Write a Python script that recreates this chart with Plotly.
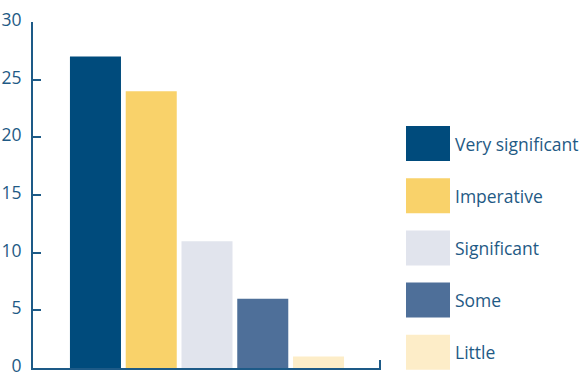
import plotly.graph_objects as go

categories = ["Very significant", "Imperative", "Significant", "Some", "Little"]
values = [27, 24, 11, 6, 1]
colors = ["#004b7c", "#f9d26a", "#e1e4ed", "#4e6f99", "#fdedc8"]
y_ticks = [0, 5, 10, 15, 20, 25, 30]

axis_color = "#1d5a87"
text_color = "#1f5a85"
FONT = "Open Sans"

fig = go.Figure()
for cat, val, col in zip(categories, values, colors):
    fig.add_trace(go.Bar(x=[cat], y=[val], name=cat, marker=dict(color=col, line=dict(width=0)),
                         showlegend=False))

# custom legend with large swatches
shapes = []
annotations = []
top0 = 126
step = 52.2
for i, (cat, col) in enumerate(zip(categories, colors)):
    t = top0 + i * step
    b = t + 35
    shapes.append(dict(type="rect", xref="paper", yref="paper",
                       x0=(406 - 33) / 348, x1=(450 - 33) / 348,
                       y0=(368 - b) / 346, y1=(368 - t) / 346,
                       fillcolor=col, line=dict(width=0)))
    annotations.append(dict(xref="paper", yref="paper", x=(453 - 33) / 348, y=(368 - (t + 17.5)) / 346,
                            text=cat, showarrow=False, xanchor="left", yanchor="middle",
                            font=dict(family=FONT, size=17.5, color=text_color)))

fig.update_layout(
    width=581, height=374,
    margin=dict(l=33, r=200, t=22, b=6, autoexpand=False),
    paper_bgcolor="white", plot_bgcolor="white",
    barmode="overlay", bargap=0.085,
    shapes=shapes, annotations=annotations,
    xaxis=dict(range=[-1.12, 5.12], showline=True, linecolor=axis_color, linewidth=2,
               showgrid=False, zeroline=False, showticklabels=False, automargin=False,
               ticks="inside", ticklen=8, tickcolor=axis_color, tickwidth=2,
               tickmode="array", tickvals=[5.1]),
    yaxis=dict(range=[0, 30], tickvals=y_ticks, showline=True, linecolor=axis_color, linewidth=2,
               showgrid=False, zeroline=False, ticks="inside", ticklen=8, tickcolor=axis_color,
               tickwidth=2, ticklabelstandoff=6, automargin=False, ticklabeloverflow="allow",
               ticklabelshift=-2,
               tickfont=dict(family=FONT, size=17.5, color=text_color)),
)

fig.write_html("out.html")
